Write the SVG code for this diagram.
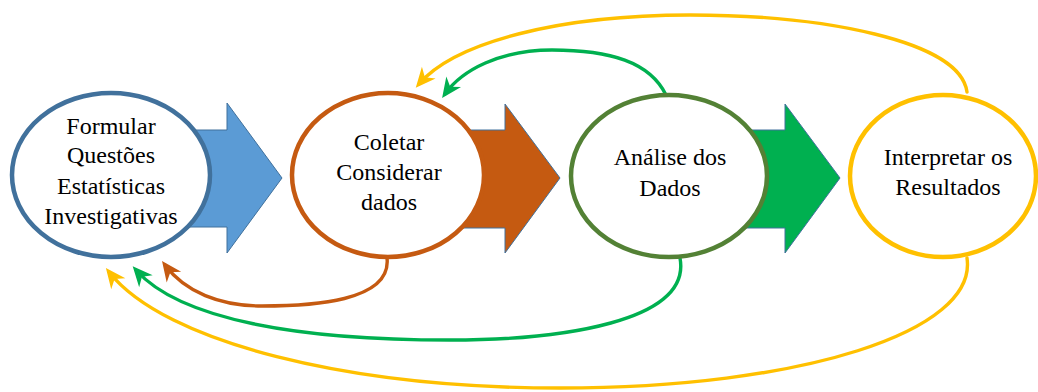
<svg xmlns="http://www.w3.org/2000/svg" width="1038" height="392" viewBox="0 0 1038 392">
<style>
.blk{stroke:#41719C;stroke-width:1}
.node{fill:#fff;stroke-width:4.5}
.lbl{font-family:"Liberation Serif","Times New Roman",serif;font-size:24px;fill:#000;text-anchor:middle}
.con{fill:none;stroke-width:3.4;stroke-linecap:round}
</style>
<defs>
<marker id="mY" viewBox="-20 -10 26 20" refX="0" refY="0" markerWidth="26" markerHeight="20" markerUnits="userSpaceOnUse" orient="auto"><path d="M5,0 L-15,-9 L-9,0 L-15,9 Z" fill="#FFC000"/></marker>
<marker id="mG" viewBox="-20 -10 26 20" refX="0" refY="0" markerWidth="26" markerHeight="20" markerUnits="userSpaceOnUse" orient="auto"><path d="M5,0 L-15,-9 L-9,0 L-15,9 Z" fill="#00B050"/></marker>
<marker id="mO" viewBox="-20 -10 26 20" refX="0" refY="0" markerWidth="26" markerHeight="20" markerUnits="userSpaceOnUse" orient="auto"><path d="M5,0 L-15,-9 L-9,0 L-15,9 Z" fill="#C55A11"/></marker>
</defs>
<rect width="1038" height="392" fill="#fff"/>
<g id="arrows">
<polygon class="blk" fill="#5B9BD5" points="170,130 227,130 227,103 282,178 227,253 227,227 170,227"/>
<polygon class="blk" fill="#C55A11" points="450,130 505,130 505,104 560,178 505,253 505,228 450,228"/>
<polygon class="blk" fill="#00B050" points="730,130 785,130 785,104 840,178 785,253 785,228 730,228"/>
</g>
<g id="connectors">
<path class="con" stroke="#FFC000" marker-end="url(#mY)" d="M967,92 C960,40 820,15 690,15 C560,15 455,42 419,84"/>
<path class="con" stroke="#00B050" marker-end="url(#mG)" d="M666,95 C650,62 610,50 552,50 C500,50 462,70 445,94"/>
<path class="con" stroke="#C55A11" marker-end="url(#mO)" d="M387,258 C392,302 310,306 262,306 C220,306 185,292 165,265"/>
<path class="con" stroke="#00B050" marker-end="url(#mG)" d="M680,258 C692,322 560,340 450,340 C300,340 180,320 136,270"/>
<path class="con" stroke="#FFC000" marker-end="url(#mY)" d="M967,258 C978,332 800,388 560,388 C350,388 165,343 109,272"/>
</g>
<g id="n1">
<ellipse class="node" stroke="#41719C" cx="111" cy="175" rx="99" ry="82"/>
<text class="lbl" x="111" y="134">Formular</text>
<text class="lbl" x="111" y="163">Questões</text>
<text class="lbl" x="111" y="194">Estatísticas</text>
<text class="lbl" x="111" y="224">Investigativas</text>
</g>
<g id="n2">
<ellipse class="node" stroke="#C55A11" cx="388" cy="175" rx="96" ry="82"/>
<text class="lbl" x="389" y="150">Coletar</text>
<text class="lbl" x="389" y="180">Considerar</text>
<text class="lbl" x="389" y="210">dados</text>
</g>
<g id="n3">
<ellipse class="node" stroke="#538135" cx="669" cy="176" rx="98" ry="81"/>
<text class="lbl" x="670" y="165">Análise dos</text>
<text class="lbl" x="670" y="196">Dados</text>
</g>
<g id="n4">
<ellipse class="node" stroke="#FFC000" cx="943" cy="176" rx="93" ry="81"/>
<text class="lbl" x="948" y="165">Interpretar os</text>
<text class="lbl" x="948" y="195">Resultados</text>
</g>
</svg>
